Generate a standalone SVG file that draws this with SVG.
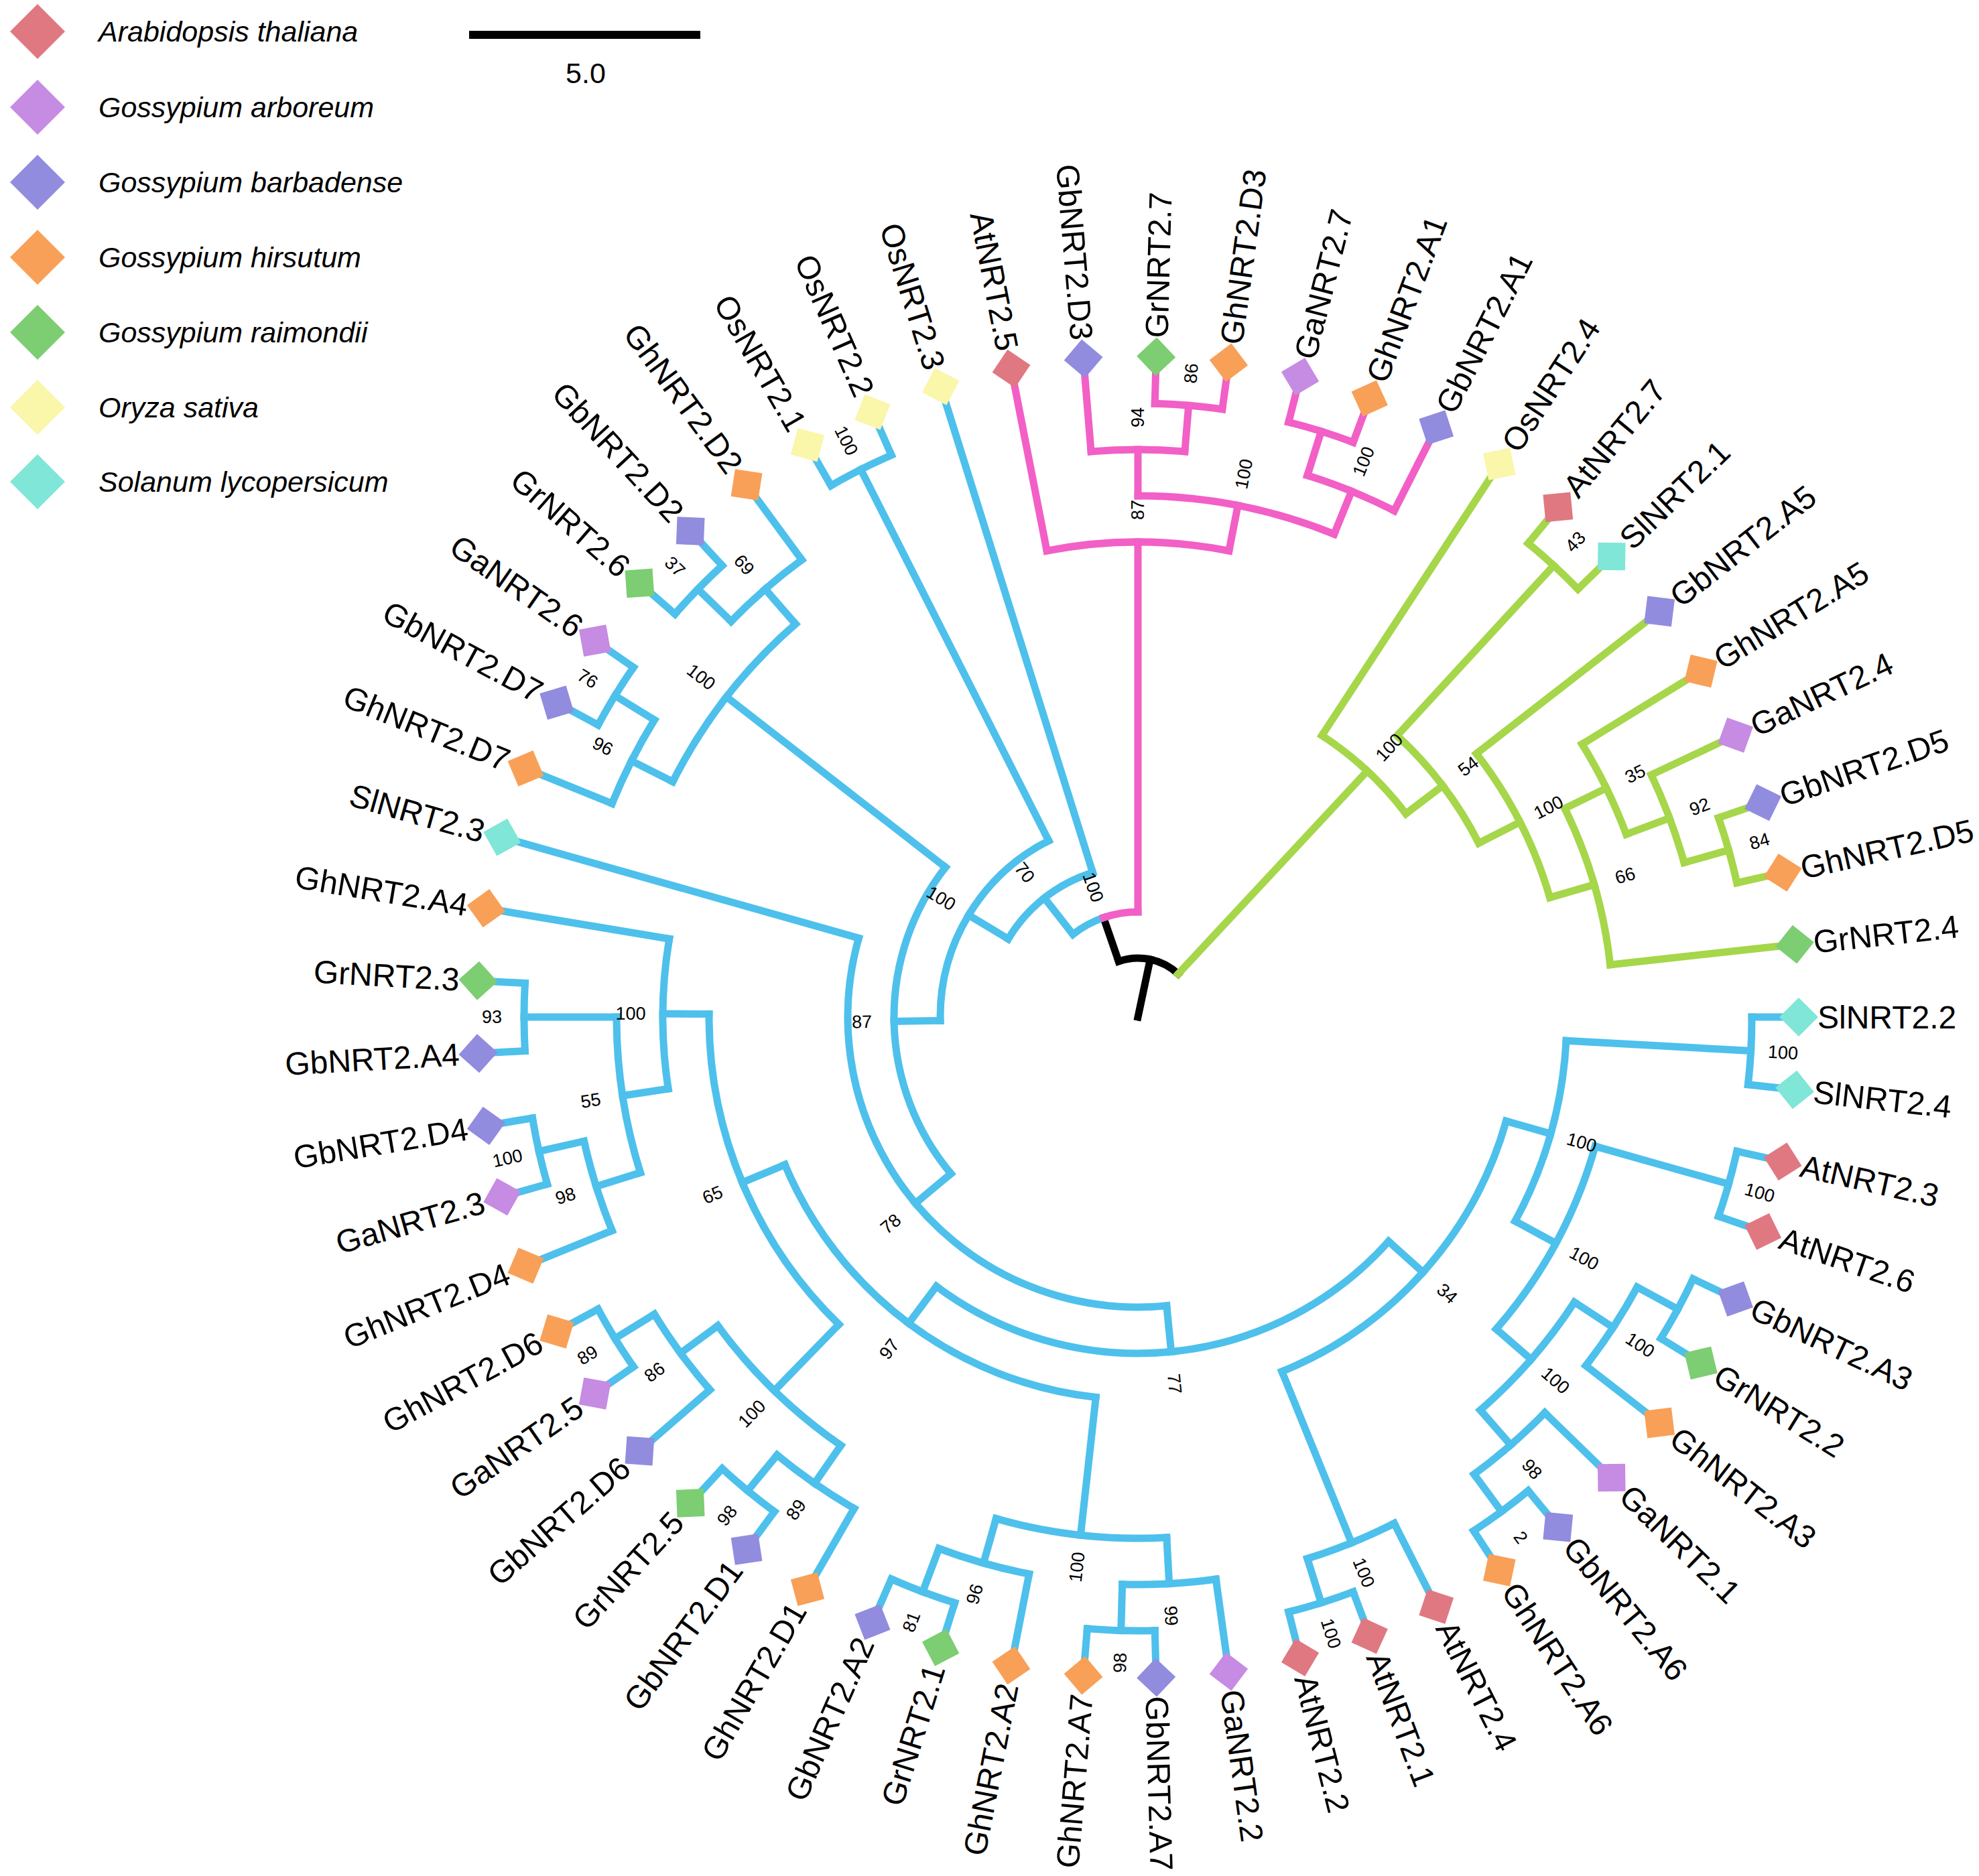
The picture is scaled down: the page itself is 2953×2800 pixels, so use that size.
<svg xmlns="http://www.w3.org/2000/svg" xmlns:xlink="http://www.w3.org/1999/xlink" width="2953" height="2800" viewBox="0 0 2953 2800">
<defs>
<style>
text{font-family:"Liberation Sans",Arial,sans-serif;fill:#000}
.lf{font-size:48px;dominant-baseline:central}
.bs{font-size:27px;text-anchor:middle;dominant-baseline:central}
.lg{font-size:43px;font-style:italic}
#connectors line,#connectors circle{fill:none;stroke-width:11;stroke-linecap:square}
.b{stroke:#4EC0EC}.p{stroke:#F25FC6}.g{stroke:#A6D64A}.k{stroke:#000}
.at{fill:#E07882}.ga{fill:#C68BE2}.gb{fill:#918CDE}.gh{fill:#F8A058}.gr{fill:#7DCD73}.os{fill:#FAF6AA}.sl{fill:#80E6D7}
</style>
<polygon id="dm" points="-29,0 0,-29 29,0 0,29"/>
<polygon id="ldm" points="0,-41 41,0 0,41 -41,0"/>
</defs>
<rect width="2953" height="2800" fill="#fff"/>
<g id="legend">
<use xlink:href="#ldm" x="56" y="47" class="at"/><text class="lg" x="147" y="62">Arabidopsis thaliana</text>
<use xlink:href="#ldm" x="56" y="160" class="ga"/><text class="lg" x="147" y="175">Gossypium arboreum</text>
<use xlink:href="#ldm" x="56" y="272" class="gb"/><text class="lg" x="147" y="287">Gossypium barbadense</text>
<use xlink:href="#ldm" x="56" y="384" class="gh"/><text class="lg" x="147" y="399">Gossypium hirsutum</text>
<use xlink:href="#ldm" x="56" y="496" class="gr"/><text class="lg" x="147" y="511">Gossypium raimondii</text>
<use xlink:href="#ldm" x="56" y="608" class="os"/><text class="lg" x="147" y="623">Oryza sativa</text>
<use xlink:href="#ldm" x="56" y="719" class="sl"/><text class="lg" x="147" y="734">Solanum lycopersicum</text>
</g>
<g id="scale-bar">
<line x1="700" y1="52" x2="1045" y2="52" stroke="#000" stroke-width="12"/>
<text x="874" y="124" font-size="43" text-anchor="middle">5.0</text>
</g>
<g id="tree" transform="translate(1698,1518)">
<g id="connectors">
<circle class="k" r="88" pathLength="360" stroke-dasharray="62.057 360" transform="rotate(250.92)"/>
<line class="k" x1="0" x2="88" transform="rotate(281.95)"/>
<line class="k" x1="88" x2="157" transform="rotate(250.92)"/>
<circle class="b" r="157" pathLength="360" stroke-dasharray="19.07 360" transform="rotate(231.85)"/>
<circle class="p" r="157" pathLength="360" stroke-dasharray="19.08 360" transform="rotate(250.92)"/>
<circle class="b" r="226" pathLength="360" stroke-dasharray="41.565 360" transform="rotate(211.067)"/>
<circle class="b" r="295" pathLength="360" stroke-dasharray="64.181 360" transform="rotate(178.977)"/>
<circle class="b" r="916" pathLength="360" stroke-dasharray="6.316 360" transform="rotate(240)"/>
<circle class="b" r="364" pathLength="360" stroke-dasharray="77.837 360" transform="rotate(140.058)"/>
<circle class="b" r="778" pathLength="360" stroke-dasharray="22.105 360" transform="rotate(206.842)"/>
<circle class="b" r="847" pathLength="360" stroke-dasharray="9.474 360" transform="rotate(202.105)"/>
<circle class="b" r="916" pathLength="360" stroke-dasharray="6.316 360" transform="rotate(208.421)"/>
<circle class="b" r="847" pathLength="360" stroke-dasharray="9.473 360" transform="rotate(224.211)"/>
<circle class="b" r="916" pathLength="360" stroke-dasharray="6.316 360" transform="rotate(221.053)"/>
<circle class="b" r="433" pathLength="360" stroke-dasharray="111.463 360" transform="rotate(84.326)"/>
<circle class="b" r="502" pathLength="360" stroke-dasharray="84.967 360" transform="rotate(41.842)"/>
<circle class="b" r="571" pathLength="360" stroke-dasharray="52.106 360" transform="rotate(15.789)"/>
<circle class="b" r="640" pathLength="360" stroke-dasharray="25.263 360" transform="rotate(3.158)"/>
<circle class="b" r="916" pathLength="360" stroke-dasharray="6.316 360" transform="rotate(0)"/>
<circle class="b" r="709" pathLength="360" stroke-dasharray="25.264 360" transform="rotate(15.789)"/>
<circle class="b" r="916" pathLength="360" stroke-dasharray="6.316 360" transform="rotate(12.632)"/>
<circle class="b" r="778" pathLength="360" stroke-dasharray="15.789 360" transform="rotate(33.158)"/>
<circle class="b" r="847" pathLength="360" stroke-dasharray="9.474 360" transform="rotate(28.421)"/>
<circle class="b" r="916" pathLength="360" stroke-dasharray="6.316 360" transform="rotate(25.263)"/>
<circle class="b" r="847" pathLength="360" stroke-dasharray="9.473 360" transform="rotate(44.211)"/>
<circle class="b" r="916" pathLength="360" stroke-dasharray="6.316 360" transform="rotate(50.526)"/>
<circle class="b" r="847" pathLength="360" stroke-dasharray="9.474 360" transform="rotate(63.158)"/>
<circle class="b" r="916" pathLength="360" stroke-dasharray="6.316 360" transform="rotate(69.474)"/>
<circle class="b" r="571" pathLength="360" stroke-dasharray="60.987 360" transform="rotate(96.316)"/>
<circle class="b" r="778" pathLength="360" stroke-dasharray="18.947 360" transform="rotate(86.842)"/>
<circle class="b" r="847" pathLength="360" stroke-dasharray="9.474 360" transform="rotate(82.105)"/>
<circle class="b" r="916" pathLength="360" stroke-dasharray="6.316 360" transform="rotate(88.421)"/>
<circle class="b" r="847" pathLength="360" stroke-dasharray="9.473 360" transform="rotate(101.053)"/>
<circle class="b" r="916" pathLength="360" stroke-dasharray="6.316 360" transform="rotate(107.368)"/>
<circle class="b" r="640" pathLength="360" stroke-dasharray="46.184 360" transform="rotate(134.211)"/>
<circle class="b" r="778" pathLength="360" stroke-dasharray="18.947 360" transform="rotate(124.737)"/>
<circle class="b" r="847" pathLength="360" stroke-dasharray="9.474 360" transform="rotate(120)"/>
<circle class="b" r="916" pathLength="360" stroke-dasharray="6.316 360" transform="rotate(126.316)"/>
<circle class="b" r="847" pathLength="360" stroke-dasharray="9.474 360" transform="rotate(138.947)"/>
<circle class="b" r="916" pathLength="360" stroke-dasharray="6.316 360" transform="rotate(145.263)"/>
<circle class="b" r="709" pathLength="360" stroke-dasharray="18.158 360" transform="rotate(171.316)"/>
<circle class="b" r="778" pathLength="360" stroke-dasharray="17.368 360" transform="rotate(162.632)"/>
<circle class="b" r="847" pathLength="360" stroke-dasharray="9.473 360" transform="rotate(157.895)"/>
<circle class="b" r="916" pathLength="360" stroke-dasharray="6.316 360" transform="rotate(164.211)"/>
<circle class="b" r="916" pathLength="360" stroke-dasharray="6.316 360" transform="rotate(176.842)"/>
<circle class="p" r="709" pathLength="360" stroke-dasharray="22.103 360" transform="rotate(258.947)"/>
<circle class="p" r="778" pathLength="360" stroke-dasharray="22.105 360" transform="rotate(270)"/>
<circle class="p" r="847" pathLength="360" stroke-dasharray="9.474 360" transform="rotate(265.263)"/>
<circle class="p" r="916" pathLength="360" stroke-dasharray="6.316 360" transform="rotate(271.579)"/>
<circle class="p" r="847" pathLength="360" stroke-dasharray="9.474 360" transform="rotate(287.368)"/>
<circle class="p" r="916" pathLength="360" stroke-dasharray="6.316 360" transform="rotate(284.211)"/>
<circle class="g" r="502" pathLength="360" stroke-dasharray="19.638 360" transform="rotate(303.158)"/>
<circle class="g" r="571" pathLength="360" stroke-dasharray="20.328 360" transform="rotate(312.632)"/>
<circle class="g" r="916" pathLength="360" stroke-dasharray="6.315 360" transform="rotate(309.474)"/>
<circle class="g" r="640" pathLength="360" stroke-dasharray="21.711 360" transform="rotate(322.105)"/>
<circle class="g" r="709" pathLength="360" stroke-dasharray="19.737 360" transform="rotate(333.947)"/>
<circle class="g" r="778" pathLength="360" stroke-dasharray="11.053 360" transform="rotate(328.421)"/>
<circle class="g" r="847" pathLength="360" stroke-dasharray="9.474 360" transform="rotate(334.737)"/>
<circle class="g" r="916" pathLength="360" stroke-dasharray="6.315 360" transform="rotate(341.053)"/>
<line class="b" x1="157" x2="226" transform="rotate(231.849)"/>
<line class="b" x1="226" x2="295" transform="rotate(211.067)"/>
<line class="b" x1="226" x2="986" transform="rotate(252.632)"/>
<line class="b" x1="295" x2="364" transform="rotate(178.977)"/>
<line class="b" x1="295" x2="916" transform="rotate(243.158)"/>
<line class="b" x1="916" x2="986" transform="rotate(240)"/>
<line class="b" x1="916" x2="986" transform="rotate(246.316)"/>
<line class="b" x1="364" x2="433" transform="rotate(140.058)"/>
<line class="b" x1="364" x2="778" transform="rotate(217.895)"/>
<line class="b" x1="778" x2="847" transform="rotate(206.842)"/>
<line class="b" x1="778" x2="847" transform="rotate(228.947)"/>
<line class="b" x1="847" x2="986" transform="rotate(202.105)"/>
<line class="b" x1="847" x2="916" transform="rotate(211.579)"/>
<line class="b" x1="916" x2="986" transform="rotate(208.421)"/>
<line class="b" x1="916" x2="986" transform="rotate(214.737)"/>
<line class="b" x1="847" x2="916" transform="rotate(224.211)"/>
<line class="b" x1="847" x2="986" transform="rotate(233.684)"/>
<line class="b" x1="916" x2="986" transform="rotate(221.053)"/>
<line class="b" x1="916" x2="986" transform="rotate(227.368)"/>
<line class="b" x1="433" x2="502" transform="rotate(84.326)"/>
<line class="b" x1="433" x2="986" transform="rotate(195.789)"/>
<line class="b" x1="502" x2="571" transform="rotate(41.842)"/>
<line class="b" x1="502" x2="571" transform="rotate(126.809)"/>
<line class="b" x1="571" x2="640" transform="rotate(15.789)"/>
<line class="b" x1="571" x2="847" transform="rotate(67.895)"/>
<line class="b" x1="640" x2="916" transform="rotate(3.158)"/>
<line class="b" x1="640" x2="709" transform="rotate(28.421)"/>
<line class="b" x1="916" x2="986" transform="rotate(0)"/>
<line class="b" x1="916" x2="986" transform="rotate(6.316)"/>
<line class="b" x1="709" x2="916" transform="rotate(15.789)"/>
<line class="b" x1="709" x2="778" transform="rotate(41.053)"/>
<line class="b" x1="916" x2="986" transform="rotate(12.632)"/>
<line class="b" x1="916" x2="986" transform="rotate(18.947)"/>
<line class="b" x1="778" x2="847" transform="rotate(33.158)"/>
<line class="b" x1="778" x2="847" transform="rotate(48.947)"/>
<line class="b" x1="847" x2="916" transform="rotate(28.421)"/>
<line class="b" x1="847" x2="986" transform="rotate(37.895)"/>
<line class="b" x1="916" x2="986" transform="rotate(25.263)"/>
<line class="b" x1="916" x2="986" transform="rotate(31.579)"/>
<line class="b" x1="847" x2="986" transform="rotate(44.211)"/>
<line class="b" x1="847" x2="916" transform="rotate(53.684)"/>
<line class="b" x1="916" x2="986" transform="rotate(50.526)"/>
<line class="b" x1="916" x2="986" transform="rotate(56.842)"/>
<line class="b" x1="847" x2="986" transform="rotate(63.158)"/>
<line class="b" x1="847" x2="916" transform="rotate(72.632)"/>
<line class="b" x1="916" x2="986" transform="rotate(69.474)"/>
<line class="b" x1="916" x2="986" transform="rotate(75.789)"/>
<line class="b" x1="571" x2="778" transform="rotate(96.316)"/>
<line class="b" x1="571" x2="640" transform="rotate(157.303)"/>
<line class="b" x1="778" x2="847" transform="rotate(86.842)"/>
<line class="b" x1="778" x2="847" transform="rotate(105.789)"/>
<line class="b" x1="847" x2="986" transform="rotate(82.105)"/>
<line class="b" x1="847" x2="916" transform="rotate(91.579)"/>
<line class="b" x1="916" x2="986" transform="rotate(88.421)"/>
<line class="b" x1="916" x2="986" transform="rotate(94.737)"/>
<line class="b" x1="847" x2="986" transform="rotate(101.053)"/>
<line class="b" x1="847" x2="916" transform="rotate(110.526)"/>
<line class="b" x1="916" x2="986" transform="rotate(107.368)"/>
<line class="b" x1="916" x2="986" transform="rotate(113.684)"/>
<line class="b" x1="640" x2="778" transform="rotate(134.211)"/>
<line class="b" x1="640" x2="709" transform="rotate(180.395)"/>
<line class="b" x1="778" x2="847" transform="rotate(124.737)"/>
<line class="b" x1="778" x2="847" transform="rotate(143.684)"/>
<line class="b" x1="847" x2="986" transform="rotate(120)"/>
<line class="b" x1="847" x2="916" transform="rotate(129.474)"/>
<line class="b" x1="916" x2="986" transform="rotate(126.316)"/>
<line class="b" x1="916" x2="986" transform="rotate(132.632)"/>
<line class="b" x1="847" x2="986" transform="rotate(138.947)"/>
<line class="b" x1="847" x2="916" transform="rotate(148.421)"/>
<line class="b" x1="916" x2="986" transform="rotate(145.263)"/>
<line class="b" x1="916" x2="986" transform="rotate(151.579)"/>
<line class="b" x1="709" x2="778" transform="rotate(171.316)"/>
<line class="b" x1="709" x2="986" transform="rotate(189.474)"/>
<line class="b" x1="778" x2="847" transform="rotate(162.632)"/>
<line class="b" x1="778" x2="916" transform="rotate(180)"/>
<line class="b" x1="847" x2="986" transform="rotate(157.895)"/>
<line class="b" x1="847" x2="916" transform="rotate(167.368)"/>
<line class="b" x1="916" x2="986" transform="rotate(164.211)"/>
<line class="b" x1="916" x2="986" transform="rotate(170.526)"/>
<line class="b" x1="916" x2="986" transform="rotate(176.842)"/>
<line class="b" x1="916" x2="986" transform="rotate(183.158)"/>
<line class="p" x1="157" x2="709" transform="rotate(270)"/>
<line class="p" x1="709" x2="986" transform="rotate(258.947)"/>
<line class="p" x1="709" x2="778" transform="rotate(281.05)"/>
<line class="p" x1="778" x2="847" transform="rotate(270)"/>
<line class="p" x1="778" x2="847" transform="rotate(292.105)"/>
<line class="p" x1="847" x2="986" transform="rotate(265.263)"/>
<line class="p" x1="847" x2="916" transform="rotate(274.737)"/>
<line class="p" x1="916" x2="986" transform="rotate(271.579)"/>
<line class="p" x1="916" x2="986" transform="rotate(277.895)"/>
<line class="p" x1="847" x2="916" transform="rotate(287.368)"/>
<line class="p" x1="847" x2="986" transform="rotate(296.842)"/>
<line class="p" x1="916" x2="986" transform="rotate(284.211)"/>
<line class="p" x1="916" x2="986" transform="rotate(290.526)"/>
<line class="g" x1="88" x2="502" transform="rotate(312.977)"/>
<line class="g" x1="502" x2="986" transform="rotate(303.158)"/>
<line class="g" x1="502" x2="571" transform="rotate(322.796)"/>
<line class="g" x1="571" x2="916" transform="rotate(312.632)"/>
<line class="g" x1="916" x2="986" transform="rotate(309.474)"/>
<line class="g" x1="916" x2="986" transform="rotate(315.789)"/>
<line class="g" x1="571" x2="640" transform="rotate(332.96)"/>
<line class="g" x1="640" x2="986" transform="rotate(322.105)"/>
<line class="g" x1="640" x2="709" transform="rotate(343.816)"/>
<line class="g" x1="709" x2="778" transform="rotate(333.947)"/>
<line class="g" x1="709" x2="986" transform="rotate(353.684)"/>
<line class="g" x1="778" x2="986" transform="rotate(328.421)"/>
<line class="g" x1="778" x2="847" transform="rotate(339.474)"/>
<line class="g" x1="847" x2="986" transform="rotate(334.737)"/>
<line class="g" x1="847" x2="916" transform="rotate(344.211)"/>
<line class="g" x1="916" x2="986" transform="rotate(341.053)"/>
<line class="g" x1="916" x2="986" transform="rotate(347.368)"/>
</g>
<g id="leaves">
<g id="leaf-SlNRT2.2" transform="rotate(0)"><use xlink:href="#dm" x="986" class="sl"/><text class="lf" x="1014">SlNRT2.2</text></g>
<g id="leaf-SlNRT2.4" transform="rotate(6.316)"><use xlink:href="#dm" x="986" class="sl"/><text class="lf" x="1014">SlNRT2.4</text></g>
<g id="leaf-AtNRT2.3" transform="rotate(12.632)"><use xlink:href="#dm" x="986" class="at"/><text class="lf" x="1014">AtNRT2.3</text></g>
<g id="leaf-AtNRT2.6" transform="rotate(18.947)"><use xlink:href="#dm" x="986" class="at"/><text class="lf" x="1014">AtNRT2.6</text></g>
<g id="leaf-GbNRT2.A3" transform="rotate(25.263)"><use xlink:href="#dm" x="986" class="gb"/><text class="lf" x="1014">GbNRT2.A3</text></g>
<g id="leaf-GrNRT2.2" transform="rotate(31.579)"><use xlink:href="#dm" x="986" class="gr"/><text class="lf" x="1014">GrNRT2.2</text></g>
<g id="leaf-GhNRT2.A3" transform="rotate(37.895)"><use xlink:href="#dm" x="986" class="gh"/><text class="lf" x="1014">GhNRT2.A3</text></g>
<g id="leaf-GaNRT2.1" transform="rotate(44.211)"><use xlink:href="#dm" x="986" class="ga"/><text class="lf" x="1014">GaNRT2.1</text></g>
<g id="leaf-GbNRT2.A6" transform="rotate(50.526)"><use xlink:href="#dm" x="986" class="gb"/><text class="lf" x="1014">GbNRT2.A6</text></g>
<g id="leaf-GhNRT2.A6" transform="rotate(56.842)"><use xlink:href="#dm" x="986" class="gh"/><text class="lf" x="1014">GhNRT2.A6</text></g>
<g id="leaf-AtNRT2.4" transform="rotate(63.158)"><use xlink:href="#dm" x="986" class="at"/><text class="lf" x="1014">AtNRT2.4</text></g>
<g id="leaf-AtNRT2.1" transform="rotate(69.474)"><use xlink:href="#dm" x="986" class="at"/><text class="lf" x="1014">AtNRT2.1</text></g>
<g id="leaf-AtNRT2.2" transform="rotate(75.789)"><use xlink:href="#dm" x="986" class="at"/><text class="lf" x="1014">AtNRT2.2</text></g>
<g id="leaf-GaNRT2.2" transform="rotate(82.105)"><use xlink:href="#dm" x="986" class="ga"/><text class="lf" x="1014">GaNRT2.2</text></g>
<g id="leaf-GbNRT2.A7" transform="rotate(88.421)"><use xlink:href="#dm" x="986" class="gb"/><text class="lf" x="1014">GbNRT2.A7</text></g>
<g id="leaf-GhNRT2.A7" transform="rotate(94.737)"><use xlink:href="#dm" x="986" class="gh"/><text class="lf" transform="rotate(180)" x="-1014" text-anchor="end">GhNRT2.A7</text></g>
<g id="leaf-GhNRT2.A2" transform="rotate(101.053)"><use xlink:href="#dm" x="986" class="gh"/><text class="lf" transform="rotate(180)" x="-1014" text-anchor="end">GhNRT2.A2</text></g>
<g id="leaf-GrNRT2.1" transform="rotate(107.368)"><use xlink:href="#dm" x="986" class="gr"/><text class="lf" transform="rotate(180)" x="-1014" text-anchor="end">GrNRT2.1</text></g>
<g id="leaf-GbNRT2.A2" transform="rotate(113.684)"><use xlink:href="#dm" x="986" class="gb"/><text class="lf" transform="rotate(180)" x="-1014" text-anchor="end">GbNRT2.A2</text></g>
<g id="leaf-GhNRT2.D1" transform="rotate(120)"><use xlink:href="#dm" x="986" class="gh"/><text class="lf" transform="rotate(180)" x="-1014" text-anchor="end">GhNRT2.D1</text></g>
<g id="leaf-GbNRT2.D1" transform="rotate(126.316)"><use xlink:href="#dm" x="986" class="gb"/><text class="lf" transform="rotate(180)" x="-1014" text-anchor="end">GbNRT2.D1</text></g>
<g id="leaf-GrNRT2.5" transform="rotate(132.632)"><use xlink:href="#dm" x="986" class="gr"/><text class="lf" transform="rotate(180)" x="-1014" text-anchor="end">GrNRT2.5</text></g>
<g id="leaf-GbNRT2.D6" transform="rotate(138.947)"><use xlink:href="#dm" x="986" class="gb"/><text class="lf" transform="rotate(180)" x="-1014" text-anchor="end">GbNRT2.D6</text></g>
<g id="leaf-GaNRT2.5" transform="rotate(145.263)"><use xlink:href="#dm" x="986" class="ga"/><text class="lf" transform="rotate(180)" x="-1014" text-anchor="end">GaNRT2.5</text></g>
<g id="leaf-GhNRT2.D6" transform="rotate(151.579)"><use xlink:href="#dm" x="986" class="gh"/><text class="lf" transform="rotate(180)" x="-1014" text-anchor="end">GhNRT2.D6</text></g>
<g id="leaf-GhNRT2.D4" transform="rotate(157.895)"><use xlink:href="#dm" x="986" class="gh"/><text class="lf" transform="rotate(180)" x="-1014" text-anchor="end">GhNRT2.D4</text></g>
<g id="leaf-GaNRT2.3" transform="rotate(164.211)"><use xlink:href="#dm" x="986" class="ga"/><text class="lf" transform="rotate(180)" x="-1014" text-anchor="end">GaNRT2.3</text></g>
<g id="leaf-GbNRT2.D4" transform="rotate(170.526)"><use xlink:href="#dm" x="986" class="gb"/><text class="lf" transform="rotate(180)" x="-1014" text-anchor="end">GbNRT2.D4</text></g>
<g id="leaf-GbNRT2.A4" transform="rotate(176.842)"><use xlink:href="#dm" x="986" class="gb"/><text class="lf" transform="rotate(180)" x="-1014" text-anchor="end">GbNRT2.A4</text></g>
<g id="leaf-GrNRT2.3" transform="rotate(183.158)"><use xlink:href="#dm" x="986" class="gr"/><text class="lf" transform="rotate(180)" x="-1014" text-anchor="end">GrNRT2.3</text></g>
<g id="leaf-GhNRT2.A4" transform="rotate(189.474)"><use xlink:href="#dm" x="986" class="gh"/><text class="lf" transform="rotate(180)" x="-1014" text-anchor="end">GhNRT2.A4</text></g>
<g id="leaf-SlNRT2.3" transform="rotate(195.789)"><use xlink:href="#dm" x="986" class="sl"/><text class="lf" transform="rotate(180)" x="-1014" text-anchor="end">SlNRT2.3</text></g>
<g id="leaf-GhNRT2.D7" transform="rotate(202.105)"><use xlink:href="#dm" x="986" class="gh"/><text class="lf" transform="rotate(180)" x="-1014" text-anchor="end">GhNRT2.D7</text></g>
<g id="leaf-GbNRT2.D7" transform="rotate(208.421)"><use xlink:href="#dm" x="986" class="gb"/><text class="lf" transform="rotate(180)" x="-1014" text-anchor="end">GbNRT2.D7</text></g>
<g id="leaf-GaNRT2.6" transform="rotate(214.737)"><use xlink:href="#dm" x="986" class="ga"/><text class="lf" transform="rotate(180)" x="-1014" text-anchor="end">GaNRT2.6</text></g>
<g id="leaf-GrNRT2.6" transform="rotate(221.053)"><use xlink:href="#dm" x="986" class="gr"/><text class="lf" transform="rotate(180)" x="-1014" text-anchor="end">GrNRT2.6</text></g>
<g id="leaf-GbNRT2.D2" transform="rotate(227.368)"><use xlink:href="#dm" x="986" class="gb"/><text class="lf" transform="rotate(180)" x="-1014" text-anchor="end">GbNRT2.D2</text></g>
<g id="leaf-GhNRT2.D2" transform="rotate(233.684)"><use xlink:href="#dm" x="986" class="gh"/><text class="lf" transform="rotate(180)" x="-1014" text-anchor="end">GhNRT2.D2</text></g>
<g id="leaf-OsNRT2.1" transform="rotate(240)"><use xlink:href="#dm" x="986" class="os"/><text class="lf" transform="rotate(180)" x="-1014" text-anchor="end">OsNRT2.1</text></g>
<g id="leaf-OsNRT2.2" transform="rotate(246.316)"><use xlink:href="#dm" x="986" class="os"/><text class="lf" transform="rotate(180)" x="-1014" text-anchor="end">OsNRT2.2</text></g>
<g id="leaf-OsNRT2.3" transform="rotate(252.632)"><use xlink:href="#dm" x="986" class="os"/><text class="lf" transform="rotate(180)" x="-1014" text-anchor="end">OsNRT2.3</text></g>
<g id="leaf-AtNRT2.5" transform="rotate(258.947)"><use xlink:href="#dm" x="986" class="at"/><text class="lf" transform="rotate(180)" x="-1014" text-anchor="end">AtNRT2.5</text></g>
<g id="leaf-GbNRT2.D3" transform="rotate(265.263)"><use xlink:href="#dm" x="986" class="gb"/><text class="lf" transform="rotate(180)" x="-1014" text-anchor="end">GbNRT2.D3</text></g>
<g id="leaf-GrNRT2.7" transform="rotate(271.579)"><use xlink:href="#dm" x="986" class="gr"/><text class="lf" x="1014">GrNRT2.7</text></g>
<g id="leaf-GhNRT2.D3" transform="rotate(277.895)"><use xlink:href="#dm" x="986" class="gh"/><text class="lf" x="1014">GhNRT2.D3</text></g>
<g id="leaf-GaNRT2.7" transform="rotate(284.211)"><use xlink:href="#dm" x="986" class="ga"/><text class="lf" x="1014">GaNRT2.7</text></g>
<g id="leaf-GhNRT2.A1" transform="rotate(290.526)"><use xlink:href="#dm" x="986" class="gh"/><text class="lf" x="1014">GhNRT2.A1</text></g>
<g id="leaf-GbNRT2.A1" transform="rotate(296.842)"><use xlink:href="#dm" x="986" class="gb"/><text class="lf" x="1014">GbNRT2.A1</text></g>
<g id="leaf-OsNRT2.4" transform="rotate(303.158)"><use xlink:href="#dm" x="986" class="os"/><text class="lf" x="1014">OsNRT2.4</text></g>
<g id="leaf-AtNRT2.7" transform="rotate(309.474)"><use xlink:href="#dm" x="986" class="at"/><text class="lf" x="1014">AtNRT2.7</text></g>
<g id="leaf-SlNRT2.1" transform="rotate(315.789)"><use xlink:href="#dm" x="986" class="sl"/><text class="lf" x="1014">SlNRT2.1</text></g>
<g id="leaf-GbNRT2.A5" transform="rotate(322.105)"><use xlink:href="#dm" x="986" class="gb"/><text class="lf" x="1014">GbNRT2.A5</text></g>
<g id="leaf-GhNRT2.A5" transform="rotate(328.421)"><use xlink:href="#dm" x="986" class="gh"/><text class="lf" x="1014">GhNRT2.A5</text></g>
<g id="leaf-GaNRT2.4" transform="rotate(334.737)"><use xlink:href="#dm" x="986" class="ga"/><text class="lf" x="1014">GaNRT2.4</text></g>
<g id="leaf-GbNRT2.D5" transform="rotate(341.053)"><use xlink:href="#dm" x="986" class="gb"/><text class="lf" x="1014">GbNRT2.D5</text></g>
<g id="leaf-GhNRT2.D5" transform="rotate(347.368)"><use xlink:href="#dm" x="986" class="gh"/><text class="lf" x="1014">GhNRT2.D5</text></g>
<g id="leaf-GrNRT2.4" transform="rotate(353.684)"><use xlink:href="#dm" x="986" class="gr"/><text class="lf" x="1014">GrNRT2.4</text></g>
</g>
<g id="support">
<text class="bs" transform="rotate(3.158)" x="964">100</text>
<text class="bs" transform="rotate(15.789)" x="964">100</text>
<text class="bs" transform="rotate(15.789)" x="688">100</text>
<text class="bs" transform="rotate(28.421)" x="757">100</text>
<text class="bs" transform="rotate(33.158)" x="895">100</text>
<text class="bs" transform="rotate(41.053)" x="826">100</text>
<text class="bs" transform="rotate(48.947)" x="895">98</text>
<text class="bs" transform="rotate(53.684)" x="964">2</text>
<text class="bs" transform="rotate(41.842)" x="619">34</text>
<text class="bs" transform="rotate(67.895)" x="895">100</text>
<text class="bs" transform="rotate(72.632)" x="964">100</text>
<text class="bs" transform="rotate(84.326)" x="550">77</text>
<text class="bs" transform="rotate(86.842)" x="895">99</text>
<text class="bs" transform="rotate(271.579)" x="-964">98</text>
<text class="bs" transform="rotate(276.316)" x="-826">100</text>
<text class="bs" transform="rotate(285.789)" x="-895">96</text>
<text class="bs" transform="rotate(290.526)" x="-964">81</text>
<text class="bs" transform="rotate(306.809)" x="-619">97</text>
<text class="bs" transform="rotate(304.737)" x="-895">89</text>
<text class="bs" transform="rotate(309.474)" x="-964">98</text>
<text class="bs" transform="rotate(314.211)" x="-826">100</text>
<text class="bs" transform="rotate(323.684)" x="-895">86</text>
<text class="bs" transform="rotate(328.421)" x="-964">89</text>
<text class="bs" transform="rotate(337.303)" x="-688">65</text>
<text class="bs" transform="rotate(342.632)" x="-895">98</text>
<text class="bs" transform="rotate(347.368)" x="-964">100</text>
<text class="bs" transform="rotate(351.316)" x="-826">55</text>
<text class="bs" transform="rotate(360)" x="-964">93</text>
<text class="bs" transform="rotate(360.395)" x="-757">100</text>
<text class="bs" transform="rotate(320.058)" x="-481">78</text>
<text class="bs" transform="rotate(358.977)" x="-412">87</text>
<text class="bs" transform="rotate(397.895)" x="-826">100</text>
<text class="bs" transform="rotate(386.842)" x="-895">96</text>
<text class="bs" transform="rotate(391.579)" x="-964">76</text>
<text class="bs" transform="rotate(408.947)" x="-895">69</text>
<text class="bs" transform="rotate(404.211)" x="-964">37</text>
<text class="bs" transform="rotate(391.067)" x="-343">100</text>
<text class="bs" transform="rotate(423.158)" x="-964">100</text>
<text class="bs" transform="rotate(411.849)" x="-274">70</text>
<text class="bs" transform="rotate(430.92)" x="-205">100</text>
<text class="bs" transform="rotate(270)" x="757">87</text>
<text class="bs" transform="rotate(281.05)" x="826">100</text>
<text class="bs" transform="rotate(270)" x="895">94</text>
<text class="bs" transform="rotate(274.737)" x="964">86</text>
<text class="bs" transform="rotate(292.105)" x="895">100</text>
<text class="bs" transform="rotate(312.977)" x="550">100</text>
<text class="bs" transform="rotate(322.796)" x="619">54</text>
<text class="bs" transform="rotate(312.632)" x="964">43</text>
<text class="bs" transform="rotate(332.96)" x="688">100</text>
<text class="bs" transform="rotate(343.816)" x="757">66</text>
<text class="bs" transform="rotate(333.947)" x="826">35</text>
<text class="bs" transform="rotate(339.474)" x="895">92</text>
<text class="bs" transform="rotate(344.211)" x="964">84</text>
</g>
</g>
</svg>
